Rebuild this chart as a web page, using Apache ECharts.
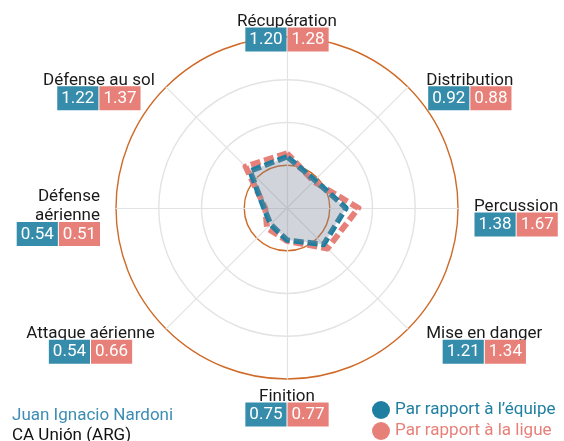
<!DOCTYPE html>
<html>
<head>
<meta charset="utf-8">
<script src="https://cdn.jsdelivr.net/npm/echarts@6/dist/echarts.min.js"></script>
<style>
  html, body { margin: 0; padding: 0; background: #fff; }
  #chart { width: 564px; height: 441px; }
</style>
</head>
<body>
<div id="chart"></div>
<script>
// radar order (ECharts goes counter-clockwise from the top)
const categories = ['Récupération', 'Défense au sol', 'Défense\naérienne', 'Attaque aérienne', 'Finition', 'Mise en danger', 'Percussion', 'Distribution'];
const teamValues = [1.20, 1.22, 0.54, 0.54, 0.75, 1.21, 1.38, 0.92];
const leagueValues = [1.28, 1.37, 0.51, 0.66, 0.77, 1.34, 1.67, 0.88];
const seriesNames = ['Par rapport à l’équipe', 'Par rapport à la ligue'];
const playerName = 'Juan Ignacio Nardoni';
const clubName = 'CA Unión (ARG)';
const axisMax = 4;

const BLUE = '#1f7fa0';
const BLUE_BOX = '#368cab';
const PINK = '#e8807a';
const ORANGE = '#cf6a28';
const GRID = '#e3e3e3';

// blank line above each axis label (moves the block up/down) and left indent for right-hand diagonals
const spacerFor = ['s18', 's26', 's14', 's4', 's20', 's4', 's14', 's26'];
const indentFor = ['', '', '', '', '', '{hx|}', '', '{hx|}'];

const rich = {
  n: { fontSize: 17, color: '#1a1a1a', lineHeight: 19, fontFamily: 'Roboto', align: 'center' },
  nr: { fontSize: 17, color: '#1a1a1a', lineHeight: 19, fontFamily: 'Roboto', align: 'right' },
  a: { fontSize: 17, color: '#fff', backgroundColor: BLUE_BOX, padding: [4, 4, 3, 4], lineHeight: 17, fontFamily: 'Roboto', align: 'center' },
  gap: { width: 1, lineHeight: 17, align: 'center' },
  b: { fontSize: 17, color: '#fff', backgroundColor: PINK, padding: [4, 4, 3, 4], lineHeight: 17, fontFamily: 'Roboto', align: 'center' },
  hx: { width: 7, align: 'left' }
};
[4, 14, 18, 20, 26].forEach(h => { rich['s' + h] = { fontSize: 2, lineHeight: h, align: 'center' }; });

const chart = echarts.init(document.getElementById('chart'));

chart.setOption({
  animation: false,
  textStyle: { fontFamily: 'Roboto' },
  title: {
    text: playerName,
    subtext: clubName,
    left: 7,
    top: 401,
    padding: [5, 5, 0, 5],
    itemGap: 0,
    textStyle: { fontSize: 17, fontWeight: 'normal', color: '#3d8db2', fontFamily: 'Roboto', lineHeight: 20 },
    subtextStyle: { fontSize: 17, color: '#111', fontFamily: 'Roboto', lineHeight: 20 }
  },
  legend: {
    orient: 'vertical',
    left: 372,
    top: 401,
    padding: 0,
    itemGap: 3,
    itemWidth: 18,
    itemHeight: 18,
    icon: 'circle',
    data: [
      { name: seriesNames[0], itemStyle: { color: BLUE }, textStyle: { color: BLUE } },
      { name: seriesNames[1], itemStyle: { color: PINK }, textStyle: { color: PINK } }
    ],
    textStyle: { fontSize: 17, fontFamily: 'Roboto', padding: [0, 0, 0, 0] }
  },
  radar: {
    center: [287, 208],
    radius: 171,
    shape: 'circle',
    splitNumber: 4,
    axisNameGap: 16,
    indicator: categories.map(c => ({ name: c, min: 0, max: axisMax })),
    axisName: {
      verticalAlign: 'middle',
      formatter: function (name) {
        const i = categories.indexOf(name);
        // two-line name sits right-aligned over its wider boxes
        const nameStyle = name.indexOf('\n') >= 0 ? 'nr' : 'n';
        const ind = indentFor[i];
        return '{' + spacerFor[i] + '| }\n' + ind + '{' + nameStyle + '|' + name + '}\n' + ind +
          '{a|' + teamValues[i].toFixed(2) + '}{gap|}{b|' + leagueValues[i].toFixed(2) + '}';
      },
      rich: rich
    },
    axisLine: { lineStyle: { color: GRID, width: 1.2 } },
    axisTick: { show: false },
    splitArea: { show: false },
    splitLine: {
      lineStyle: { color: [GRID, ORANGE, GRID, GRID, ORANGE], width: 1.4 }
    }
  },
  series: [{
    type: 'radar',
    symbol: 'none',
    z: 3,
    data: [
      {
        name: seriesNames[1],
        value: leagueValues,
        lineStyle: { color: PINK, width: 6, type: [10, 4] },
        itemStyle: { color: PINK }
      },
      {
        name: seriesNames[0],
        value: teamValues,
        lineStyle: { color: BLUE, width: 5.5, type: [10, 4] },
        itemStyle: { color: BLUE },
        areaStyle: { color: 'rgba(125,135,152,0.5)' }
      }
    ]
  }]
});
</script>
</body>
</html>
